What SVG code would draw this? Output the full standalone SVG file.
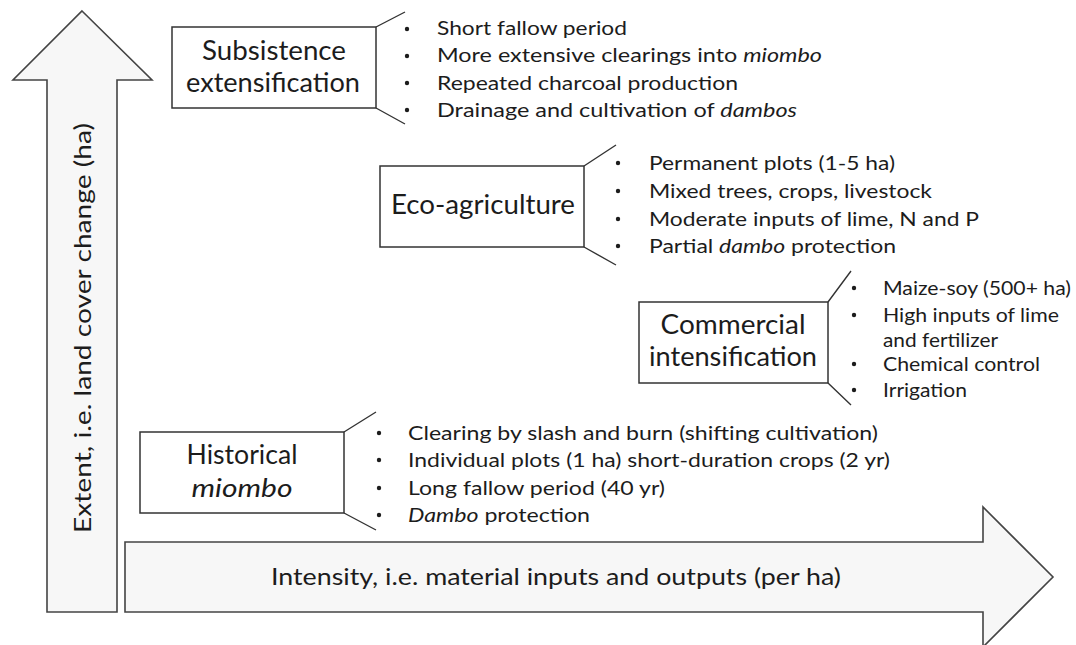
<svg xmlns="http://www.w3.org/2000/svg" width="1076" height="645" viewBox="0 0 1076 645">
<style>
.axis{fill:#f7f7f7;stroke:#444;stroke-width:1.6;stroke-linejoin:miter}
.box{fill:#fff;stroke:#333;stroke-width:1.5}
.br{fill:none;stroke:#333;stroke-width:1.4}
.t{font-family:Lato,"Open Sans","Liberation Sans",sans-serif;fill:#1c1c1c}
.title{font-size:26px;text-anchor:middle}
.item{font-size:19.5px}
.ax{font-size:24px}
.dot{fill:#1c1c1c}
</style>
<rect width="1076" height="645" fill="#fff"/>
<g id="axes">
<g id="y-axis">
<polygon class="axis" points="82,11 152,80 117,80 117,612 47,612 47,80 13,80"/>
<text class="t ax" transform="translate(91,328) rotate(-90)" text-anchor="middle" textLength="410" lengthAdjust="spacingAndGlyphs">Extent, i.e. land cover change (ha)</text>
</g>
<g id="x-axis">
<polygon class="axis" points="125,542 983,542 983,507 1053,577 983,647 983,612 125,612"/>
<text class="t ax" x="556" y="585" text-anchor="middle" textLength="570" lengthAdjust="spacingAndGlyphs">Intensity, i.e. material inputs and outputs (per ha)</text>
</g>
</g>
<g id="subsistence">
<rect class="box" x="172" y="27" width="204" height="81"/>
<path class="br" d="M376,27 L405,12 M376,108 L405,124"/>
<text class="t title" x="274" y="60" textLength="144" lengthAdjust="spacingAndGlyphs">Subsistence</text>
<text class="t title" x="273" y="92" textLength="174" lengthAdjust="spacingAndGlyphs">extensification</text>
<g class="t item">
<circle class="dot" cx="407" cy="29" r="2.2"/><text x="437" y="35" textLength="190" lengthAdjust="spacingAndGlyphs">Short fallow period</text>
<circle class="dot" cx="407" cy="56" r="2.2"/><text x="437" y="62" textLength="385" lengthAdjust="spacingAndGlyphs">More extensive clearings into <tspan font-style="italic">miombo</tspan></text>
<circle class="dot" cx="407" cy="83" r="2.2"/><text x="437" y="90" textLength="301" lengthAdjust="spacingAndGlyphs">Repeated charcoal production</text>
<circle class="dot" cx="407" cy="110" r="2.2"/><text x="437" y="117" textLength="360" lengthAdjust="spacingAndGlyphs">Drainage and cultivation of <tspan font-style="italic">dambos</tspan></text>
</g>
</g>
<g id="eco-agriculture">
<rect class="box" x="380" y="166" width="204" height="81"/>
<path class="br" d="M584,166 L616,145 M584,247 L616,265"/>
<text class="t title" x="483" y="214" textLength="184" lengthAdjust="spacingAndGlyphs">Eco-agriculture</text>
<g class="t item">
<circle class="dot" cx="618" cy="163" r="2.2"/><text x="649" y="170" textLength="246" lengthAdjust="spacingAndGlyphs">Permanent plots (1-5 ha)</text>
<circle class="dot" cx="618" cy="191" r="2.2"/><text x="649" y="198" textLength="283" lengthAdjust="spacingAndGlyphs">Mixed trees, crops, livestock</text>
<circle class="dot" cx="618" cy="219" r="2.2"/><text x="649" y="226" textLength="330" lengthAdjust="spacingAndGlyphs">Moderate inputs of lime, N and P</text>
<circle class="dot" cx="618" cy="246" r="2.2"/><text x="649" y="253" textLength="247" lengthAdjust="spacingAndGlyphs">Partial <tspan font-style="italic">dambo</tspan> protection</text>
</g>
</g>
<g id="commercial">
<rect class="box" x="639" y="302" width="189" height="81"/>
<path class="br" d="M828,302 L851,271 M828,383 L851,405"/>
<text class="t title" x="733" y="334" textLength="145" lengthAdjust="spacingAndGlyphs">Commercial</text>
<text class="t title" x="733" y="366" textLength="168" lengthAdjust="spacingAndGlyphs">intensification</text>
<g class="t item">
<circle class="dot" cx="854" cy="288" r="2.2"/><text x="883" y="295" textLength="188" lengthAdjust="spacingAndGlyphs">Maize-soy (500+ ha)</text>
<circle class="dot" cx="854" cy="315" r="2.2"/><text x="883" y="322" textLength="176" lengthAdjust="spacingAndGlyphs">High inputs of lime</text>
<text x="883" y="347" textLength="115" lengthAdjust="spacingAndGlyphs">and fertilizer</text>
<circle class="dot" cx="854" cy="364" r="2.2"/><text x="883" y="371" textLength="157" lengthAdjust="spacingAndGlyphs">Chemical control</text>
<circle class="dot" cx="854" cy="390" r="2.2"/><text x="883" y="397" textLength="84" lengthAdjust="spacingAndGlyphs">Irrigation</text>
</g>
</g>
<g id="historical">
<rect class="box" x="140" y="432" width="204" height="81"/>
<path class="br" d="M344,432 L376,412 M344,513 L376,530"/>
<text class="t title" x="242" y="464" textLength="111" lengthAdjust="spacingAndGlyphs">Historical</text>
<text class="t title" x="242" y="497" font-style="italic" textLength="101" lengthAdjust="spacingAndGlyphs">miombo</text>
<g class="t item">
<circle class="dot" cx="379" cy="433" r="2.2"/><text x="408" y="440" textLength="470" lengthAdjust="spacingAndGlyphs">Clearing by slash and burn (shifting cultivation)</text>
<circle class="dot" cx="379" cy="460" r="2.2"/><text x="408" y="467" textLength="482" lengthAdjust="spacingAndGlyphs">Individual plots (1 ha) short-duration crops (2 yr)</text>
<circle class="dot" cx="379" cy="488" r="2.2"/><text x="408" y="495" textLength="257" lengthAdjust="spacingAndGlyphs">Long fallow period (40 yr)</text>
<circle class="dot" cx="379" cy="515" r="2.2"/><text x="408" y="522" textLength="182" lengthAdjust="spacingAndGlyphs"><tspan font-style="italic">Dambo</tspan> protection</text>
</g>
</g>
</svg>
